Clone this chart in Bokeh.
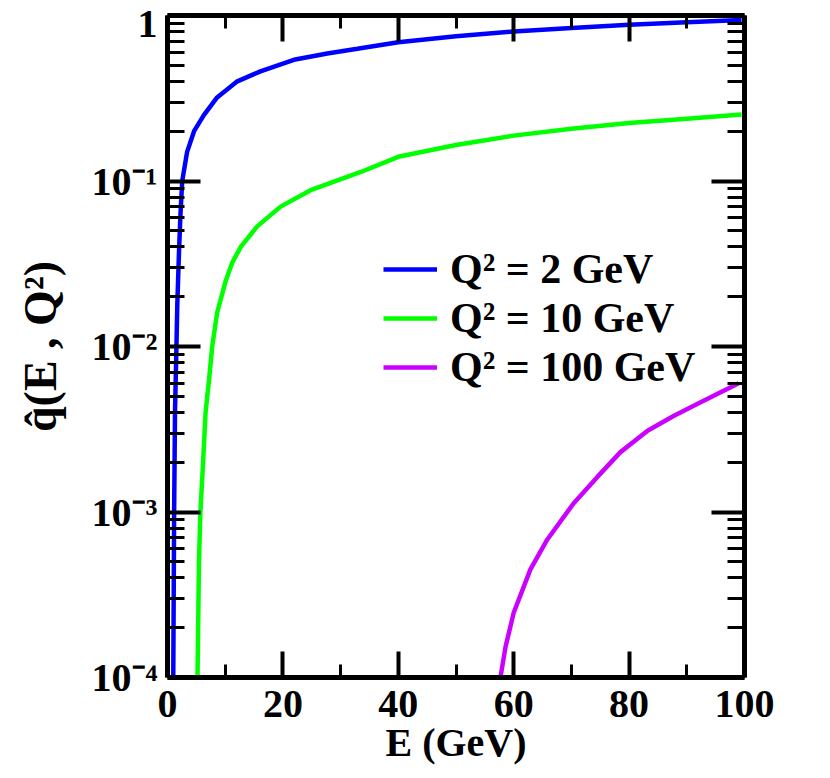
from bokeh.plotting import figure
from bokeh.models import (Range1d, LinearAxis, LogAxis, FixedTicker,
                          CustomJSTickFormatter, Legend, LegendItem)
from bokeh.embed import file_html
from bokeh.resources import INLINE

# ---- data ----
E_q2_2 = [1.0, 1.15, 1.3, 1.55, 1.7, 2.0, 2.25, 2.55, 3.4, 4.6, 6.3, 8.6,
          12.1, 16.1, 21.9, 27.7, 32.9, 40, 50, 60, 70, 80, 90, 99.5]
qhat_q2_2 = [1e-4, 1e-3, 4e-3, 1e-2, 1.8e-2, 3.8e-2, 6.3e-2, 0.10, 0.15, 0.20,
             0.25, 0.32, 0.40, 0.46, 0.54, 0.59, 0.63, 0.69, 0.75, 0.80, 0.84,
             0.88, 0.91, 0.94]

E_q2_10 = [5.2, 5.45, 5.7, 6.1, 6.6, 7.2, 7.75, 8.6, 10.1, 11.2, 12.7, 15.5,
           19.6, 24.8, 33.4, 40, 50, 60, 70, 80, 90, 99.5]
qhat_q2_10 = [1e-4, 4.9e-4, 1.0e-3, 1.8e-3, 4.0e-3, 6.3e-3, 1.0e-2, 1.6e-2,
              2.5e-2, 3.2e-2, 4.0e-2, 5.3e-2, 7.0e-2, 8.8e-2, 0.113, 0.14,
              0.165, 0.188, 0.207, 0.224, 0.238, 0.252]

E_q2_100 = [57.7, 58.6, 60.0, 62.9, 65.8, 70.4, 74.5, 78.5, 83.2, 87.7, 92.4, 99]
qhat_q2_100 = [1e-4, 1.54e-4, 2.46e-4, 4.5e-4, 6.8e-4, 1.13e-3, 1.63e-3,
               2.3e-3, 3.1e-3, 3.8e-3, 4.6e-3, 6.0e-3]

series_labels = ["Q\u00b2 = 2 GeV", "Q\u00b2 = 10 GeV", "Q\u00b2 = 100 GeV"]
series_colors = ["#0000ff", "#00ff00", "#cc00ff"]

x_ticks = [0, 20, 40, 60, 80, 100]
x_minor = [10, 30, 50, 70, 90]
y_ticks = [1e-4, 1e-3, 1e-2, 1e-1, 1]
y_minor = [m * 10.0 ** e for e in range(-4, 0) for m in range(2, 10)]

FONT = "Liberation Serif"

p = figure(frame_width=577, frame_height=662,
           x_range=Range1d(0, 100), y_range=Range1d(1e-4, 1),
           y_axis_type="log", output_backend="svg", toolbar_location=None,
           min_border_left=167, min_border_top=15, min_border_right=60,
           min_border_bottom=93)
p.outline_line_color = None
p.grid.visible = False
p.background_fill_color = "white"

r1 = p.line(E_q2_2, qhat_q2_2, line_color=series_colors[0], line_width=4.5)
r2 = p.line(E_q2_10, qhat_q2_10, line_color=series_colors[1], line_width=4.5)
r3 = p.line(E_q2_100, qhat_q2_100, line_color=series_colors[2], line_width=4.5)

xb = p.below[0]
yl = p.left[0]

blank = CustomJSTickFormatter(code='return "";')
xa_top = LinearAxis(formatter=blank)
ya_right = LogAxis(formatter=blank)
p.add_layout(xa_top, "above")
p.add_layout(ya_right, "right")


def style(ax, ticks, minor, tin, tmin):
    ax.ticker = FixedTicker(ticks=ticks, minor_ticks=minor)
    ax.axis_line_width = 5
    ax.axis_line_color = "black"
    ax.major_tick_line_width = 4
    ax.minor_tick_line_width = 3
    ax.major_tick_in = tin
    ax.major_tick_out = 0
    ax.minor_tick_in = tmin
    ax.minor_tick_out = 0
    ax.major_label_text_font = FONT
    ax.major_label_text_font_style = "bold"
    ax.major_label_text_font_size = "40px"
    ax.major_label_text_color = "black"
    ax.axis_label_text_font = FONT
    ax.axis_label_text_font_style = "bold"
    ax.axis_label_text_color = "black"


for ax in (xb, xa_top):
    style(ax, x_ticks, x_minor, 26, 13)
for ax in (yl, ya_right):
    style(ax, y_ticks, y_minor, 33, 17)

for ax in (xa_top, ya_right):
    ax.major_label_standoff = 0

fmt = CustomJSTickFormatter(code="""
const e = Math.round(Math.log10(tick));
if (e === 0) { return "1"; }
const m = {"-": "\u207b", "0": "\u2070", "1": "\u00b9", "2": "\u00b2",
           "3": "\u00b3", "4": "\u2074", "5": "\u2075"};
return "10" + String(e).split("").map(c => m[c]).join("");
""")
yl.formatter = fmt
yl.major_label_standoff = 10
xb.major_label_standoff = 13

xb.axis_label = "E (GeV)"
xb.axis_label_text_font_size = "40px"
xb.axis_label_standoff = 0
yl.axis_label = "q\u0302(E , Q\u00b2)"
yl.axis_label_text_font_size = "46px"
yl.axis_label_standoff = 23

legend = Legend(items=[LegendItem(label=series_labels[0], renderers=[r1]),
                       LegendItem(label=series_labels[1], renderers=[r2]),
                       LegendItem(label=series_labels[2], renderers=[r3])],
                location=(216, 286))
legend.label_text_font = FONT
legend.label_text_font_style = "bold"
legend.label_text_font_size = "42px"
legend.label_text_color = "black"
legend.glyph_width = 54
legend.glyph_height = 40
legend.label_height = 40
legend.label_standoff = 13
legend.spacing = 1
legend.padding = 0
legend.margin = 0
legend.border_line_color = None
legend.background_fill_alpha = 0
p.add_layout(legend)

open("out.html", "w").write(file_html(p, INLINE))
